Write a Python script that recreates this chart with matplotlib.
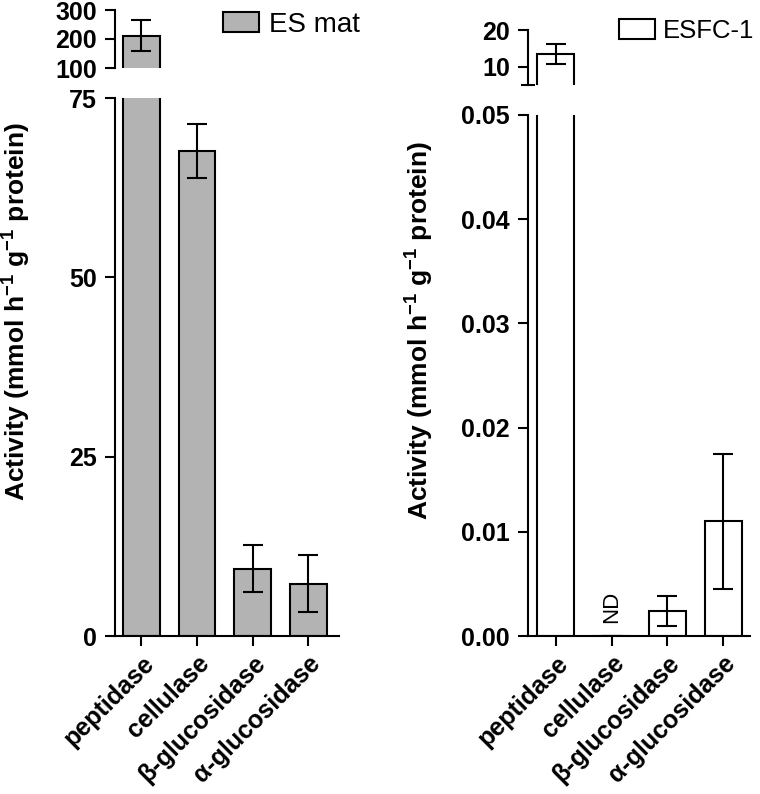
import matplotlib
matplotlib.use("Agg")
import matplotlib.pyplot as plt
from matplotlib.patches import Patch
from matplotlib.ticker import FixedLocator

plt.rcParams['font.family'] = ['Liberation Sans', 'DejaVu Sans']
plt.rcParams['mathtext.fontset'] = 'custom'
plt.rcParams['mathtext.rm'] = 'Liberation Sans'
plt.rcParams['mathtext.bf'] = 'Liberation Sans:bold'
plt.rcParams['mathtext.default'] = 'bf'

categories = ['peptidase', 'cellulase', 'β-glucosidase', 'α-glucosidase']

# ES mat
es_mean = [212, 67.6, 9.4, 7.3]
es_err = [55, 3.8, 3.3, 4.0]
# ESFC-1 (cellulase not detected)
fc_mean = [13.5, 0.0, 0.0024, 0.011]
fc_err = [2.7, 0.0, 0.0014, 0.0065]
fc_nd = [False, True, False, False]

ylabel = 'Activity (mmol h$^{-1}$ g$^{-1}$ protein)'

W, H = 760, 794
fig = plt.figure(figsize=(W / 100, H / 100), dpi=100)

def px_axes(x0, y0, x1, y1):
    return fig.add_axes([x0 / W, 1 - y1 / H, (x1 - x0) / W, (y1 - y0) / H])

LW = 1.5
GRAY = '#b3b3b3'
BW = 0.66
TICKFS = 18

def style_upper(ax):
    for s in ['top', 'right', 'bottom']:
        ax.spines[s].set_visible(False)
    ax.spines['left'].set_linewidth(LW)
    ax.tick_params(axis='x', bottom=False, labelbottom=False)
    ax.tick_params(axis='y', length=7, width=LW, labelsize=TICKFS, pad=6)
    for t in ax.get_yticklabels():
        t.set_fontweight('bold')

def style_lower(ax):
    for s in ['top', 'right']:
        ax.spines[s].set_visible(False)
    ax.spines['left'].set_linewidth(LW)
    ax.spines['bottom'].set_linewidth(LW)
    ax.tick_params(axis='both', length=7, width=LW, labelsize=TICKFS, pad=6)
    ax.tick_params(axis='x', pad=4)
    for t in ax.get_yticklabels():
        t.set_fontweight('bold')

x = list(range(len(categories)))

def draw(ax, means, errs, color):
    ax.bar(x, means, width=BW, color=color, edgecolor='black', linewidth=LW, zorder=2)
    ax.errorbar(x, means, yerr=errs, fmt='none', ecolor='black', elinewidth=LW,
                capsize=7.5, capthick=LW, zorder=3)

# ---------------- Left panel (ES mat) ----------------
axLu = px_axes(115, 10, 339, 68)
axLl = px_axes(115, 98, 339, 636)
for ax in (axLu, axLl):
    draw(ax, es_mean, es_err, GRAY)
    ax.set_xlim(-0.476, 3.55)
axLu.set_ylim(100, 300)
axLu.set_yticks([100, 200, 300])
axLl.set_ylim(0, 75)
axLl.set_yticks([0, 25, 50, 75])
style_upper(axLu)
style_lower(axLl)
axLl.set_xticks(x)
axLl.set_xticklabels(categories, rotation=45, ha='right', rotation_mode='anchor',
                     fontweight='bold', fontsize=TICKFS)

# ---------------- Right panel (ESFC-1) ----------------
axRu = px_axes(528, 30, 750, 85)
axRl = px_axes(528, 115, 750, 636)
for ax in (axRu, axRl):
    draw(ax, fc_mean, fc_err, 'white')
    ax.set_xlim(-0.50, 3.48)
axRu.set_ylim(5, 20)
axRu.set_yticks([10, 20])
axRu.yaxis.set_minor_locator(FixedLocator([5]))
axRl.set_ylim(0, 0.05)
axRl.set_yticks([0, 0.01, 0.02, 0.03, 0.04, 0.05])
axRl.set_yticklabels(['0.00', '0.01', '0.02', '0.03', '0.04', '0.05'])
style_upper(axRu)
axRu.tick_params(axis='y', which='minor', direction='inout', length=10, width=LW)
style_lower(axRl)
axRl.set_xticks(x)
axRl.set_xticklabels(categories, rotation=45, ha='right', rotation_mode='anchor',
                     fontweight='bold', fontsize=TICKFS)
for xi, nd in zip(x, fc_nd):
    if nd:
        axRl.text(xi, 0.00125, 'ND', rotation=90, ha='center', va='bottom', fontsize=16)

# y labels
fig.text(17 / W, 1 - 312 / H, ylabel, rotation=90, ha='center', va='center',
         fontsize=19, fontweight='bold')
fig.text(420 / W, 1 - 331 / H, ylabel, rotation=90, ha='center', va='center',
         fontsize=19, fontweight='bold')

# legends
fig.legend(handles=[Patch(facecolor=GRAY, edgecolor='black', linewidth=LW, label='ES mat')],
           loc='upper left', bbox_to_anchor=(223 / W, 1 - 12 / H), frameon=False,
           fontsize=20, handlelength=1.3, handleheight=0.75, handletextpad=0.35,
           borderpad=0, borderaxespad=0)
fig.legend(handles=[Patch(facecolor='white', edgecolor='black', linewidth=LW, label='ESFC-1')],
           loc='upper left', bbox_to_anchor=(619 / W, 1 - 19 / H), frameon=False,
           fontsize=18.5, handlelength=1.4, handleheight=0.8, handletextpad=0.3,
           borderpad=0, borderaxespad=0)

fig.savefig('out.png', dpi=100)
